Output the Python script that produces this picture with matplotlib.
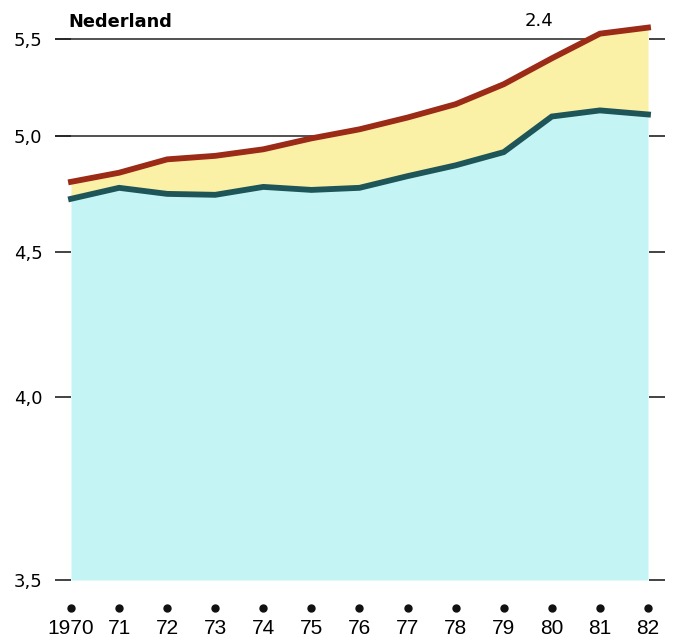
import numpy as np
import matplotlib
matplotlib.use("Agg")
import matplotlib.pyplot as plt
import matplotlib.transforms as mtransforms

plt.rcParams['font.family'] = ['Liberation Sans', 'DejaVu Sans']

# ---- data ----
years = [1970, 1971, 1972, 1973, 1974, 1975, 1976, 1977, 1978, 1979, 1980, 1981, 1982]
year_labels = ['1970', '71', '72', '73', '74', '75', '76', '77', '78', '79', '80', '81', '82']
lower = [4.717, 4.764, 4.738, 4.734, 4.768, 4.755, 4.764, 4.815, 4.863, 4.923, 5.092, 5.122, 5.102]
upper = [4.79, 4.83, 4.89, 4.906, 4.936, 4.987, 5.03, 5.087, 5.153, 5.255, 5.393, 5.531, 5.566]
y_ticks = [3.5, 4.0, 4.5, 5.0, 5.5]
y_tick_labels = ['3,5', '4,0', '4,5', '5,0', '5,5']
grid_levels = [5.0, 5.5]
title = 'Nederland'
corner_note = '2.4'

# ---- figure ----
W, H = 681, 640
fig = plt.figure(figsize=(W / 100, H / 100), dpi=100)
ax = fig.add_axes([55 / W, (H - 580) / H, (665 - 55) / W, (580 - 15) / H])

P = 0.9
def fwd(v):
    v = np.asarray(v, dtype=float)
    with np.errstate(divide='ignore', invalid='ignore'):
        return -np.power(np.clip(v, 1e-6, None), -P)
def inv(u):
    u = np.asarray(u, dtype=float)
    with np.errstate(divide='ignore', invalid='ignore'):
        return np.power(np.clip(-u, 1e-9, None), -1.0 / P)
ax.set_yscale('function', functions=(fwd, inv))

x0 = years[0] - 16 / 48.08
x1 = years[-1] + 17 / 48.08
ax.set_xlim(x0, x1)
ax.set_ylim(3.5, 5.64)

cyan = '#C4F5F4'
yellow = '#FAF0A6'
red = '#9B2A16'
teal = '#1E5558'

ax.hlines(grid_levels, x0, years[-1], color='#333333', lw=1.2, zorder=0.5)
ax.fill_between(years, 3.5, lower, color=cyan, lw=0, zorder=1)
ax.fill_between(years, lower, upper, color=yellow, lw=0, zorder=1)
ax.plot(years, lower, color=teal, lw=4.2, solid_joinstyle='miter', zorder=2)
ax.plot(years, upper, color=red, lw=4.2, solid_joinstyle='miter', zorder=2)

for s in ax.spines.values():
    s.set_visible(False)

ax.set_yticks(y_ticks)
ax.set_yticklabels(y_tick_labels, family=['DejaVu Sans'])
ax.yaxis.set_minor_locator(matplotlib.ticker.NullLocator())
ax.tick_params(axis='y', left=True, right=True, direction='in', length=11.5,
               width=1.2, color='#222222', labelsize=13, pad=9)

ax.set_xticks(years)
ax.set_xticklabels(year_labels)
ax.tick_params(axis='x', length=0, labelsize=15, pad=28)

trans = mtransforms.blended_transform_factory(ax.transData, ax.transAxes)
ax.plot(years, [-0.0496] * len(years), 'o', color='#111111', ms=5,
        transform=trans, clip_on=False)

fig.text(68 / W, 1 - 27 / H, title, fontsize=12.8, fontweight='bold',
         family=['DejaVu Sans'], ha='left', va='baseline')
fig.text(539 / W, 1 - 26 / H, corner_note, fontsize=13, family=['DejaVu Sans'],
         ha='center', va='baseline')

fig.savefig('out.png', dpi=100, facecolor='white')
